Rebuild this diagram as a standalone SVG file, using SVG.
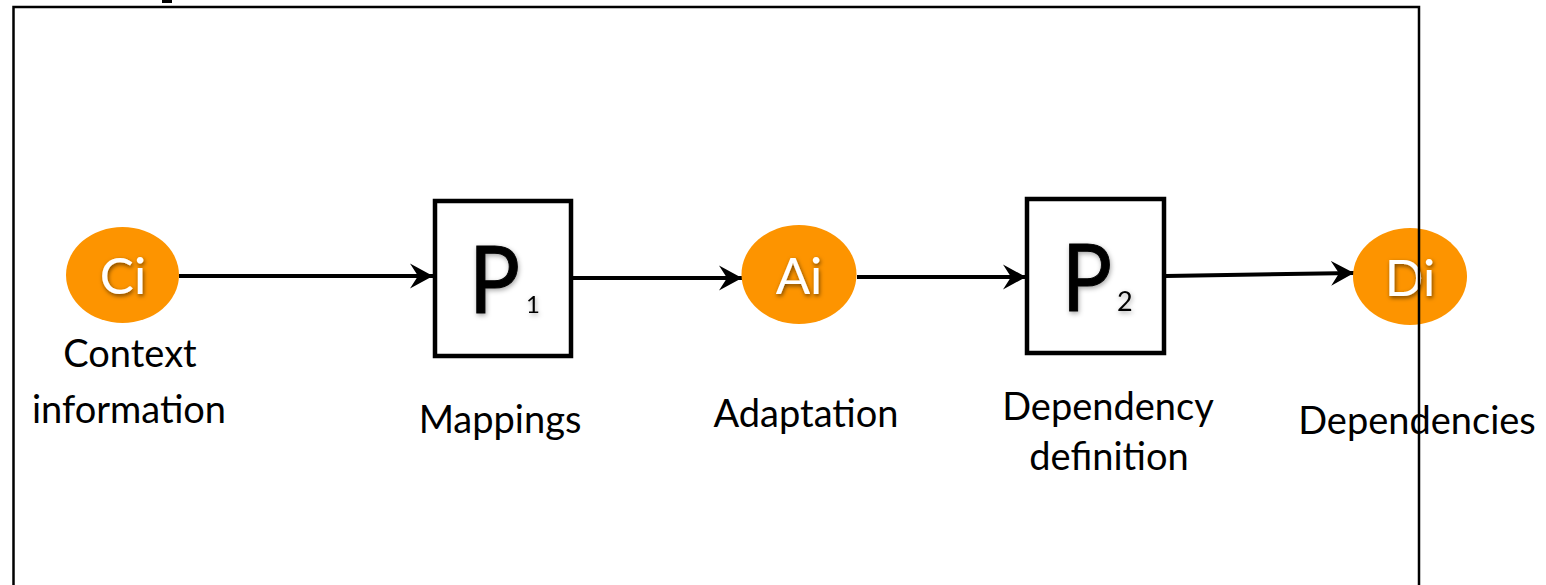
<svg xmlns="http://www.w3.org/2000/svg" width="1546" height="585" viewBox="0 0 1546 585">
  <defs>
    <style>
      .label { font-family: "Lato", "Open Sans", "DejaVu Sans", sans-serif; font-size: 38px; fill: #000; text-anchor: middle; }
      .token { font-family: "Lato", "Open Sans", "DejaVu Sans", sans-serif; font-size: 51px; fill: #fff; text-anchor: middle; filter: url(#shadow); }
      .proc { font-family: "Lato", "Open Sans", "DejaVu Sans", sans-serif; fill: #000; filter: url(#softshadow); }
      .big { font-size: 94px; stroke: #000; stroke-width: 1; }
      .blob { fill: #fd9400; }
      .box { fill: #fff; stroke: #000; stroke-width: 4.5; }
      .edge { fill: none; stroke: #000; stroke-width: 4; marker-end: url(#arrow); }
      .frame { fill: none; stroke: #000; stroke-width: 2.5; }
    </style>
    <filter id="shadow" x="-30%" y="-30%" width="160%" height="160%">
      <feDropShadow dx="1" dy="2" stdDeviation="2" flood-color="#000" flood-opacity="0.55"/>
    </filter>
    <filter id="softshadow" x="-30%" y="-30%" width="160%" height="160%">
      <feDropShadow dx="1" dy="2" stdDeviation="2.5" flood-color="#000" flood-opacity="0.35"/>
    </filter>
    <marker id="arrow" markerUnits="userSpaceOnUse" viewBox="0 -13 24 26" refX="23" refY="0" markerWidth="24" markerHeight="26" orient="auto">
      <path d="M0,-12.5 L23,0 L0,12.5 L8,0 Z" fill="#000"/>
    </marker>
  </defs>

  <!-- connectors -->
  <g id="connectors">
    <line class="edge" x1="179" y1="276" x2="433" y2="276"/>
    <line class="edge" x1="573" y1="278" x2="742" y2="278"/>
    <line class="edge" x1="857" y1="277" x2="1026" y2="277"/>
    <line class="edge" x1="1166" y1="276" x2="1354" y2="273"/>
  </g>

  <!-- context information -->
  <g id="node-ci">
    <ellipse class="blob" cx="122.5" cy="275" rx="56.5" ry="48"/>
    <text class="token" x="123" y="294">Ci</text>
    <text class="label" x="130" y="367">Context</text>
    <text class="label" x="129" y="423">information</text>
  </g>

  <!-- mappings process -->
  <g id="node-p1">
    <rect class="box" x="435" y="201" width="136" height="155"/>
    <text class="proc big" x="469" y="313" textLength="51" lengthAdjust="spacingAndGlyphs">P</text>
    <text class="proc" x="526" y="313" font-size="24">1</text>
    <text class="label" x="500" y="433">Mappings</text>
  </g>

  <!-- adaptation -->
  <g id="node-ai">
    <ellipse class="blob" cx="799" cy="274.5" rx="57.5" ry="49.5"/>
    <text class="token" x="799" y="294">Ai</text>
    <text class="label" x="806" y="427">Adaptation</text>
  </g>

  <!-- dependency definition process -->
  <g id="node-p2">
    <rect class="box" x="1027" y="199" width="137" height="154"/>
    <text class="proc big" x="1062" y="311" textLength="50" lengthAdjust="spacingAndGlyphs">P</text>
    <text class="proc" x="1117" y="311" font-size="27">2</text>
    <text class="label" x="1108" y="420">Dependency</text>
    <text class="label" x="1109" y="470">definition</text>
  </g>

  <!-- dependencies -->
  <g id="node-di">
    <ellipse class="blob" cx="1410" cy="276.5" rx="57" ry="48.5"/>
    <text class="token" x="1410" y="296">Di</text>
    <text class="label" x="1417" y="434">Dependencies</text>
  </g>

  <!-- enclosing frame, drawn over the nodes -->
  <g id="frame">
    <path class="frame" d="M13.5,590 V7 H1419 V590"/>
    <rect x="162" y="0" width="10" height="3" fill="#000"/>
  </g>
</svg>
